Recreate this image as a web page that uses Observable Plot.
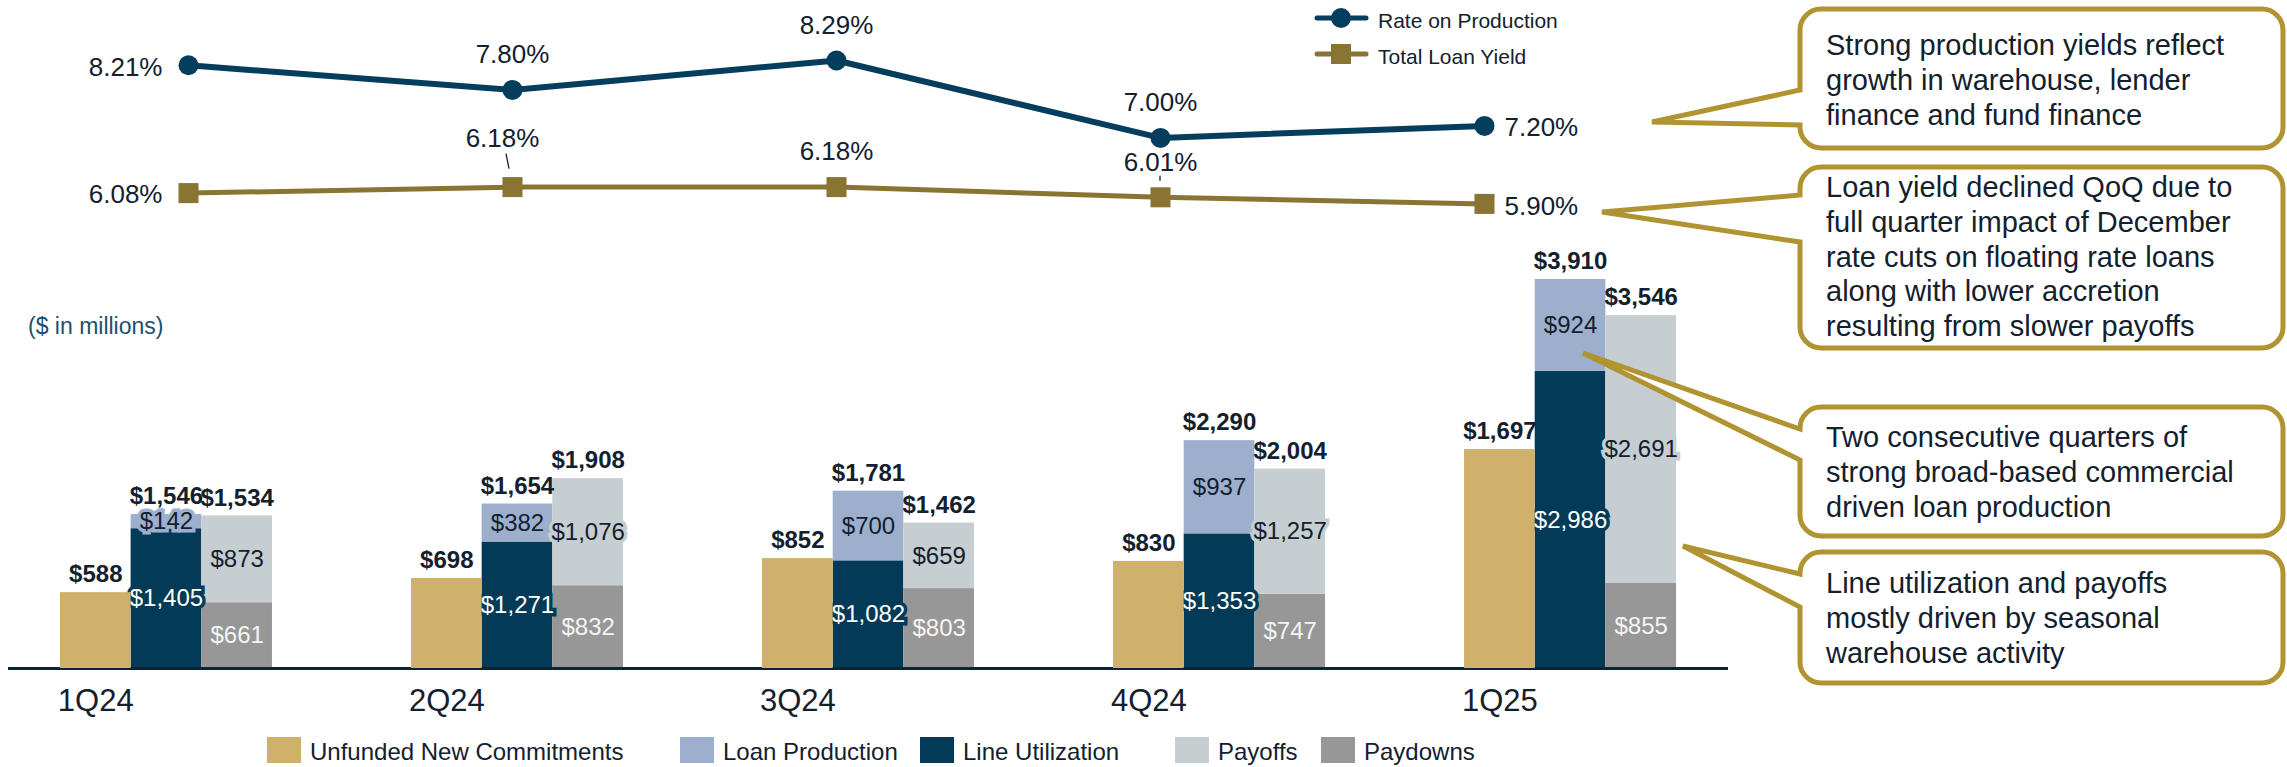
<!DOCTYPE html>
<html><head><meta charset="utf-8"><title>Loan production and yields</title>
<script src="https://cdn.jsdelivr.net/npm/d3@7"></script>
<script src="https://cdn.jsdelivr.net/npm/@observablehq/plot@0.6"></script>
<style>
html,body{margin:0;padding:0;background:#fff;}
#root{position:relative;width:2287px;height:767px;overflow:hidden;background:#fff;font-family:'Liberation Sans',Arial,Helvetica,sans-serif;}
#root > svg{position:absolute;left:0;top:0;}
</style></head><body><div id="root"></div>
<script>
// ---------------- data ----------------
const quarters = ["1Q24", "2Q24", "3Q24", "4Q24", "1Q25"];
const unfundedNewCommitments = [588, 698, 852, 830, 1697];
const lineUtilization = [1405, 1271, 1082, 1353, 2986];
const loanProduction = [142, 382, 700, 937, 924];
const productionTotals = [1546, 1654, 1781, 2290, 3910];
const paydowns = [661, 832, 803, 747, 855];
const payoffs = [873, 1076, 659, 1257, 2691];
const payoffTotals = [1534, 1908, 1462, 2004, 3546];
const rateOnProduction = [8.21, 7.80, 8.29, 7.00, 7.20];
const totalLoanYield = [6.08, 6.18, 6.18, 6.01, 5.90];
const seriesNames = ["Unfunded New Commitments", "Loan Production", "Line Utilization", "Payoffs", "Paydowns"];
const seriesColors = ["#CFB16B", "#9DAFCD", "#033A57", "#C6CED2", "#979797"];
const lineNames = ["Rate on Production", "Total Loan Yield"];
const lineColors = ["#053D5C", "#8A7434"];
const unitNote = "($ in millions)";
const calloutTexts = [
  ["Strong production yields reflect", "growth in warehouse, lender", "finance and fund finance"],
  ["Loan yield declined QoQ due to", "full quarter impact of December", "rate cuts on floating rate loans", "along with lower accretion", "resulting from slower payoffs"],
  ["Two consecutive quarters of", "strong broad-based commercial", "driven loan production"],
  ["Line utilization and payoffs", "mostly driven by seasonal", "warehouse activity"]
];

// ---------------- setup ----------------
const W = 2287, H = 767;
const FONT = "'Liberation Sans', Arial, Helvetica, sans-serif";
const TXT = "#13202E";
const root = document.getElementById("root");
const fmtD = v => "$" + d3.format(",")(v);
const pct = d => d.v.toFixed(2) + "%";
const colorOf = name => seriesColors[seriesNames.indexOf(name)];

// bar layout: one band per quarter, three sub-columns inside
const xBand = {domain: quarters, paddingInner: 0.396, paddingOuter: 0.148, round: false, axis: null};
const band = d3.scaleBand().domain(quarters).range([8, 1728]).paddingInner(0.396).paddingOuter(0.148);
const SUB = band.bandwidth() / 3;
const barFrame = {width: W, height: H, marginLeft: 8, marginRight: W - 1728, marginTop: 270, marginBottom: 99};

const rows = quarters.map((q, i) => ({q, i}));
const segs = [];
quarters.forEach((q, i) => {
  segs.push({q, s: "Line Utilization", c: 1, y1: 0, y2: lineUtilization[i], v: lineUtilization[i]});
  segs.push({q, s: "Loan Production", c: 1, y1: lineUtilization[i], y2: lineUtilization[i] + loanProduction[i], v: loanProduction[i]});
  segs.push({q, s: "Paydowns", c: 2, y1: 0, y2: paydowns[i], v: paydowns[i]});
  segs.push({q, s: "Payoffs", c: 2, y1: paydowns[i], y2: paydowns[i] + payoffs[i], v: payoffs[i]});
});
const ink = {"Line Utilization": "#FFFFFF", "Loan Production": TXT, "Paydowns": "#F4F4F4", "Payoffs": TXT};

const stackSeries = ["Line Utilization", "Loan Production", "Paydowns", "Payoffs"];
const barMarks = [];
stackSeries.forEach(s => {
  const data = segs.filter(d => d.s === s);
  const c = data[0].c;
  barMarks.push(Plot.barY(data, {x: "q", y1: "y1", y2: "y2", fill: colorOf(s), insetLeft: c * SUB, insetRight: (2 - c) * SUB}));
});
stackSeries.forEach(s => {
  const data = segs.filter(d => d.s === s);
  const c = data[0].c;
  const common = {x: "q", y: d => (d.y1 + d.y2) / 2, text: d => fmtD(d.v), dx: (c - 1) * SUB, fontSize: 24, lineAnchor: "middle"};
  barMarks.push(Plot.text(data, {...common, fill: colorOf(s), stroke: colorOf(s), strokeWidth: 7, strokeLinejoin: "miter"}));
  barMarks.push(Plot.text(data, {...common, fill: ink[s]}));
});
barMarks.push(Plot.text(rows, {x: "q", y: d => productionTotals[d.i], text: d => fmtD(productionTotals[d.i]), fontWeight: "bold", fontSize: 24, fill: TXT, dy: -18, lineAnchor: "middle"}));
barMarks.push(Plot.text(rows, {x: "q", y: d => payoffTotals[d.i], text: d => fmtD(payoffTotals[d.i]), fontWeight: "bold", fontSize: 24, fill: TXT, dx: SUB, dy: -18, lineAnchor: "middle"}));
barMarks.push(Plot.ruleY([0], {stroke: "#0B2537", strokeWidth: 3}));

const stackPlot = Plot.plot({
  ...barFrame,
  x: xBand,
  y: {domain: [0, 4000], axis: null},
  style: {background: "none", fontFamily: FONT},
  marks: barMarks
});

// Unfunded commitments are drawn on their own (secondary) value axis
const unfundedPlot = Plot.plot({
  ...barFrame,
  x: xBand,
  y: {domain: [0, 3085], axis: null},
  style: {background: "none", fontFamily: FONT},
  marks: [
    Plot.barY(rows, {x: "q", y: d => unfundedNewCommitments[d.i], fill: colorOf("Unfunded New Commitments"), insetRight: 2 * SUB}),
    Plot.text(rows, {x: "q", y: d => unfundedNewCommitments[d.i], text: d => fmtD(unfundedNewCommitments[d.i]), fontWeight: "bold", fontSize: 24, fill: TXT, dx: -SUB, dy: -18, lineAnchor: "middle"}),
    Plot.text(quarters, {x: d => d, frameAnchor: "bottom", text: d => d, fontSize: 31, fill: TXT, dx: -SUB, dy: 33, lineAnchor: "middle"})
  ]
});

// ---------------- line chart ----------------
const rateRows = quarters.map((q, i) => ({q, i, v: rateOnProduction[i]}));
const yieldRows = quarters.map((q, i) => ({q, i, v: totalLoanYield[i]}));
const last = quarters.length - 1;
const lblBase = {x: "q", y: "v", text: pct, fontSize: 26, fill: TXT, lineAnchor: "middle"};
const linePlot = Plot.plot({
  width: W, height: 260, marginLeft: 187, marginRight: W - 1485, marginTop: 60, marginBottom: 56.6,
  x: {type: "point", domain: quarters, padding: 0, axis: null},
  y: {domain: [5.90, 8.29], axis: null},
  style: {background: "none", fontFamily: FONT},
  marks: [
    Plot.line(yieldRows, {x: "q", y: "v", stroke: lineColors[1], strokeWidth: 5}),
    Plot.dot(yieldRows, {x: "q", y: "v", symbol: "square", r: 11.3, fill: lineColors[1]}),
    Plot.line(rateRows, {x: "q", y: "v", stroke: lineColors[0], strokeWidth: 6}),
    Plot.dot(rateRows, {x: "q", y: "v", r: 10, fill: lineColors[0]}),
    Plot.text(rateRows.filter(d => d.i === 0), {...lblBase, textAnchor: "end", dx: -26, dy: 2}),
    Plot.text(rateRows.filter(d => d.i > 0 && d.i < last), {...lblBase, dy: -35}),
    Plot.text(rateRows.filter(d => d.i === last), {...lblBase, textAnchor: "start", dx: 20, dy: 2}),
    Plot.text(yieldRows.filter(d => d.i === 0), {...lblBase, textAnchor: "end", dx: -26, dy: 2}),
    Plot.text(yieldRows.filter(d => d.i === 1), {...lblBase, dx: -10, dy: -48}),
    Plot.text(yieldRows.filter(d => d.i > 1 && d.i < last), {...lblBase, dy: -35}),
    Plot.text(yieldRows.filter(d => d.i === last), {...lblBase, textAnchor: "start", dx: 20, dy: 3})
  ]
});
// leader lines for yield labels, placed with the plot's own scales
{
  const sx = linePlot.scale("x"), sy = linePlot.scale("y");
  const g = d3.select(linePlot).append("g").attr("stroke", TXT).attr("stroke-width", 1.3);
  [[1, -6, -33, -3, -18], [3, 0, -21, 0, -16]].forEach(([i, ax, ay, bx, by]) => {
    const px = sx.apply(quarters[i]), py = sy.apply(totalLoanYield[i]);
    g.append("line").attr("x1", px + ax).attr("y1", py + ay).attr("x2", px + bx).attr("y2", py + by);
  });
}

root.append(stackPlot);
root.append(unfundedPlot);
root.append(linePlot);

// ---------------- overlay: note, legends, callouts ----------------
const svg = d3.create("svg").attr("width", W).attr("height", H).attr("viewBox", `0 0 ${W} ${H}`)
  .style("font-family", FONT).style("pointer-events", "none");

svg.append("text").attr("x", 28).attr("y", 326).attr("dominant-baseline", "central")
  .attr("font-size", 23).attr("fill", "#1D4F6F").text(unitNote);

// top legend (lines)
const lgY = [18, 54];
lineNames.forEach((n, k) => {
  const g = svg.append("g");
  g.append("line").attr("x1", 1317).attr("x2", 1366).attr("y1", lgY[k]).attr("y2", lgY[k])
    .attr("stroke", lineColors[k]).attr("stroke-width", 5).attr("stroke-linecap", "round");
  if (k === 0) g.append("circle").attr("cx", 1341).attr("cy", lgY[k]).attr("r", 10).attr("fill", lineColors[k]);
  else g.append("rect").attr("x", 1331).attr("y", lgY[k] - 10).attr("width", 20).attr("height", 20).attr("fill", lineColors[k]);
  g.append("text").attr("x", 1378).attr("y", lgY[k] + 2).attr("dominant-baseline", "central")
    .attr("font-size", 21).attr("fill", TXT).text(n);
});

// bottom legend (bars)
const swX = [267, 680, 920, 1175, 1321];
seriesNames.forEach((n, k) => {
  svg.append("rect").attr("x", swX[k]).attr("y", 737).attr("width", 34).attr("height", 26).attr("fill", seriesColors[k]);
  svg.append("text").attr("x", swX[k] + 43).attr("y", 751).attr("dominant-baseline", "central")
    .attr("font-size", 24).attr("fill", TXT).text(n);
});

// callouts
const boxes = [
  {L: 1800, T: 9,   R: 2283, B: 148, p1: 90,  p2: 125, tx: 1652, ty: 122, base: 55},
  {L: 1800, T: 167, R: 2283, B: 348, p1: 195, p2: 242, tx: 1602, ty: 212, base: 197},
  {L: 1800, T: 407, R: 2283, B: 536, p1: 429, p2: 460, tx: 1583, ty: 353, base: 447},
  {L: 1800, T: 552, R: 2283, B: 683, p1: 574, p2: 607, tx: 1683, ty: 546, base: 593}
];
const r = 21;
boxes.forEach((b, k) => {
  const p = `M${b.L + r},${b.T} H${b.R - r} A${r},${r} 0 0 1 ${b.R},${b.T + r} V${b.B - r} A${r},${r} 0 0 1 ${b.R - r},${b.B} H${b.L + r} A${r},${r} 0 0 1 ${b.L},${b.B - r} V${b.p2} L${b.tx},${b.ty} L${b.L},${b.p1} V${b.T + r} A${r},${r} 0 0 1 ${b.L + r},${b.T} Z`;
  svg.append("path").attr("d", p).attr("fill", "#fff").attr("stroke", "#B09431").attr("stroke-width", 5).attr("stroke-linejoin", "miter");
  calloutTexts[k].forEach((t, j) => {
    svg.append("text").attr("x", 1826).attr("y", b.base + j * 34.8).attr("font-size", 29).attr("fill", TXT).text(t);
  });
});

root.append(svg.node());
</script></body></html>
